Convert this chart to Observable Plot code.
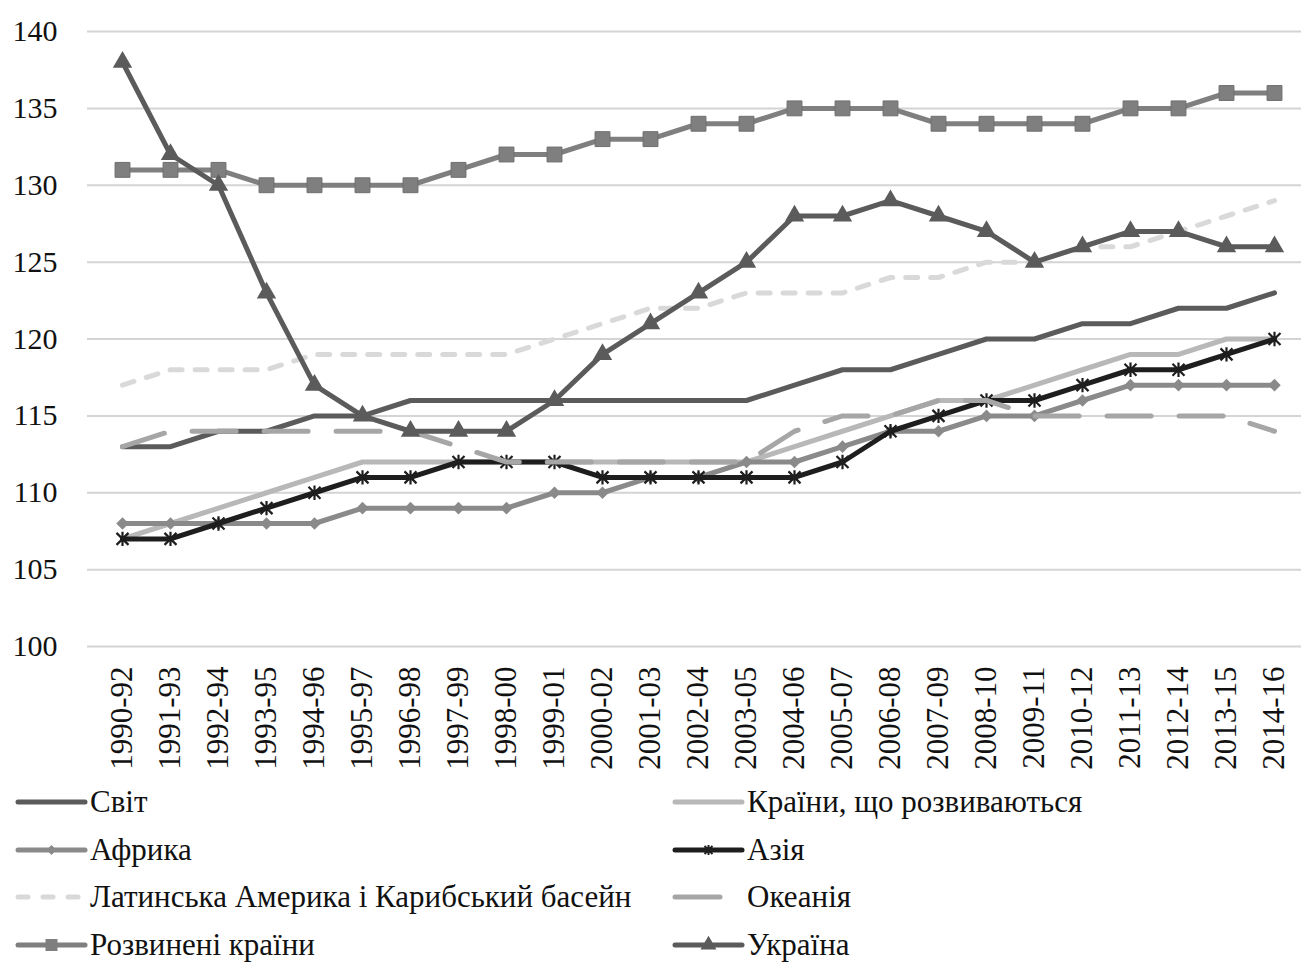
<!DOCTYPE html>
<html>
<head>
<meta charset="utf-8">
<script src="https://cdn.jsdelivr.net/npm/d3@7"></script>
<script src="https://cdn.jsdelivr.net/npm/@observablehq/plot@0.6"></script>
<style>
  html, body { margin: 0; padding: 0; background: #fff; }
  #wrap { position: relative; width: 1301px; height: 966px; font-family: "Liberation Serif", "Times New Roman", serif; }
  #legend { position: absolute; left: 0; top: 784px; width: 1301px; height: 176px; }
  .item { position: absolute; height: 36px; line-height: 36px; display: flex; align-items: center; font-size: 31px; color: #111; white-space: nowrap; }
  .item svg { display: block; }
</style>
</head>
<body>
<div id="wrap"><div id="chart"></div><div id="legend"></div></div>
<script>
// ---- data ----
const periods = ["1990-92","1991-93","1992-94","1993-95","1994-96","1995-97","1996-98","1997-99","1998-00","1999-01","2000-02","2001-03","2002-04","2003-05","2004-06","2005-07","2006-08","2007-09","2008-10","2009-11","2010-12","2011-13","2012-14","2013-15","2014-16"];
const yTicks = [100, 105, 110, 115, 120, 125, 130, 135, 140];

const seriesNames = ["Світ", "Країни, що розвиваються", "Африка", "Азія", "Латинська Америка і Карибський басейн", "Океанія", "Розвинені країни", "Україна"];

const world      = [113,113,114,114,115,115,116,116,116,116,116,116,116,116,117,118,118,119,120,120,121,121,122,122,123];
const developing = [107,108,109,110,111,112,112,112,112,112,112,112,112,112,113,114,115,116,116,117,118,119,119,120,120];
const africa     = [108,108,108,108,108,109,109,109,109,110,110,111,111,112,112,113,114,114,115,115,116,117,117,117,117];
const asia       = [107,107,108,109,110,111,111,112,112,112,111,111,111,111,111,112,114,115,116,116,117,118,118,119,120];
const latam      = [117,118,118,118,119,119,119,119,119,120,121,122,122,123,123,123,124,124,125,125,126,126,127,128,129];
const oceania    = [113,114,114,114,114,114,114,113,112,112,112,112,112,112,114,115,115,116,116,115,115,115,115,115,114];
const developed  = [131,131,131,130,130,130,130,131,132,132,133,133,134,134,135,135,135,134,134,134,134,135,135,136,136];
const ukraine    = [138,132,130,123,117,115,114,114,114,116,119,121,123,125,128,128,129,128,127,125,126,127,127,126,126];

// ---- styles ----
const asterisk = {
  draw(ctx, size) {
    const r = Math.sqrt(size / Math.PI);
    ctx.moveTo(-r, -r); ctx.lineTo(r, r);
    ctx.moveTo(-r, r); ctx.lineTo(r, -r);
    ctx.moveTo(0, -r * 1.2); ctx.lineTo(0, r * 1.2);
  }
};

const styles = [
  {values: world,      stroke: "#5b5b5b", width: 5},
  {values: developing, stroke: "#b8b8b8", width: 5},
  {values: africa,     stroke: "#8a8a8a", width: 5, marker: "diamond"},
  {values: asia,       stroke: "#1e1e1e", width: 5, marker: "asterisk"},
  {values: latam,      stroke: "#d9d9d9", width: 5, dash: "12,13"},
  {values: oceania,    stroke: "#a6a6a6", width: 5, dash: "44,28"},
  {values: developed,  stroke: "#7f7f7f", width: 5, marker: "square"},
  {values: ukraine,    stroke: "#5b5b5b", width: 5, marker: "triangle"}
];

const marks = [
  Plot.gridY({ticks: yTicks, stroke: "#d4d4d4", strokeOpacity: 1, strokeWidth: 2}),
  Plot.axisY({ticks: yTicks, tickSize: 0, tickPadding: 30, fontSize: 30, fill: "#111", label: null}),
  Plot.axisX({tickRotate: -90, tickSize: 0, tickPadding: 20, fontSize: 31, fill: "#111", label: null})
];

styles.forEach((s, k) => {
  const rows = periods.map((p, i) => ({period: p, value: s.values[i], series: seriesNames[k]}));
  marks.push(Plot.line(rows, {
    x: "period", y: "value", stroke: s.stroke, strokeWidth: s.width,
    strokeDasharray: s.dash, strokeLinecap: "round", strokeLinejoin: "round"
  }));
  if (s.marker === "diamond") {
    marks.push(Plot.dot(rows, {x: "period", y: "value", symbol: "square", r: 5, rotate: 45, fill: s.stroke, stroke: "none"}));
  } else if (s.marker === "square") {
    marks.push(Plot.dot(rows, {x: "period", y: "value", symbol: "square", r: 8.4, fill: s.stroke, stroke: "#6f6f6f", strokeWidth: 1}));
  } else if (s.marker === "triangle") {
    marks.push(Plot.dot(rows, {x: "period", y: "value", symbol: "triangle", r: 7.2, fill: s.stroke, stroke: "none"}));
  } else if (s.marker === "asterisk") {
    marks.push(Plot.dot(rows, {x: "period", y: "value", symbol: asterisk, r: 6, fill: "none", stroke: s.stroke, strokeWidth: 2.2}));
  }
});

const chart = Plot.plot({
  width: 1301,
  height: 780,
  marginTop: 31,
  marginBottom: 134,
  marginLeft: 87,
  marginRight: 0,
  style: {fontFamily: "'Liberation Serif', 'Times New Roman', serif", fontSize: "30px", color: "#111", background: "#fff"},
  x: {type: "point", domain: periods, range: [112, 1284], padding: 0},
  y: {domain: [100, 140]},
  marks
});
document.getElementById("chart").appendChild(chart);

// ---- legend ----
const legend = d3.select("#legend");
const positions = [
  [15, 0], [672, 0],
  [15, 1], [672, 1],
  [15, 2], [672, 2],
  [15, 3], [672, 3]
];
styles.forEach((s, k) => {
  const [left, row] = positions[k];
  const item = legend.append("div").attr("class", "item")
    .style("left", left + "px").style("top", (row * 47.7) + "px");
  const svg = item.append("svg").attr("width", 74).attr("height", 24);
  const cy = 12;
  if (s.dash && k === 4) {
    [[3, 13], [28, 38], [53, 63]].forEach(([a, b]) =>
      svg.append("line").attr("x1", a).attr("x2", b).attr("y1", cy).attr("y2", cy)
        .attr("stroke", s.stroke).attr("stroke-width", 5).attr("stroke-linecap", "round"));
  } else if (s.dash) {
    svg.append("line").attr("x1", 3).attr("x2", 48).attr("y1", cy).attr("y2", cy)
      .attr("stroke", s.stroke).attr("stroke-width", 5).attr("stroke-linecap", "round");
  } else {
    svg.append("line").attr("x1", 3).attr("x2", 70).attr("y1", cy).attr("y2", cy)
      .attr("stroke", s.stroke).attr("stroke-width", 5).attr("stroke-linecap", "round");
  }
  const g = svg.append("g").attr("transform", `translate(36.5,${cy})`);
  if (s.marker === "diamond") g.append("path").attr("d", "M0,-5L5,0L0,5L-5,0Z").attr("fill", s.stroke);
  if (s.marker === "square") g.append("rect").attr("x", -6).attr("y", -6).attr("width", 12).attr("height", 12).attr("fill", s.stroke);
  if (s.marker === "triangle") g.append("path").attr("d", d3.symbol(d3.symbolTriangle, 110)()).attr("fill", s.stroke);
  if (s.marker === "asterisk") g.append("path").attr("d", "M-4,-4L4,4M-4,4L4,-4M0,-5L0,5").attr("stroke", s.stroke).attr("stroke-width", 2).attr("fill", "none");
  item.append("span").style("margin-left", "1px").text(seriesNames[k]);
});
</script>
</body>
</html>
